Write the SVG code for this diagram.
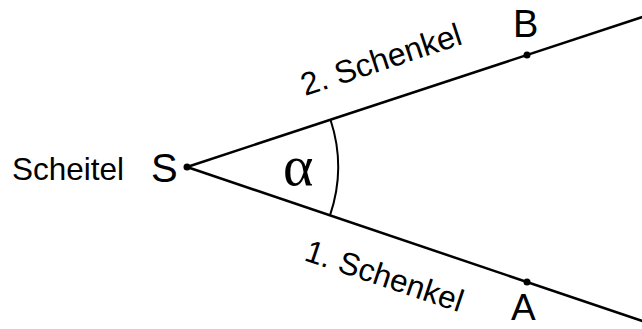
<svg xmlns="http://www.w3.org/2000/svg" width="642" height="329" viewBox="0 0 642 329">
<style>
.lbl{font-family:"Liberation Sans",Arial,sans-serif;fill:#000}
.ray{stroke:#000;stroke-width:2.5;fill:none;stroke-linecap:butt}
.arc{stroke:#000;stroke-width:2;fill:none}
.dot{fill:#000}
</style>
<rect width="642" height="329" fill="#fff"/>
<g id="connectors">
<line class="ray" x1="187" y1="167" x2="650" y2="14.5"/>
<line class="ray" x1="187" y1="167" x2="650" y2="323.6"/>
<path class="arc" d="M330.5,119.8 A151,151 0 0 1 330,215.4"/>
</g>
<g id="node-S">
<circle class="dot" cx="187" cy="167" r="3.5"/>
<text class="lbl" x="151" y="182" font-size="40">S</text>
<text class="lbl" x="12" y="180" font-size="31.5">Scheitel</text>
</g>
<g id="node-B">
<circle class="dot" cx="527" cy="55" r="3.5"/>
<text class="lbl" x="513" y="37" font-size="38">B</text>
</g>
<g id="node-A">
<circle class="dot" cx="527" cy="282" r="3.5"/>
<text class="lbl" x="511" y="320" font-size="37">A</text>
</g>
<g id="alpha">
<text x="283" y="185" font-size="58" font-family="'Liberation Serif','Times New Roman',serif">α</text>
</g>
<g id="label-2">
<text class="lbl" font-size="32" transform="translate(305,96) rotate(-18.2)">2. Schenkel</text>
</g>
<g id="label-1">
<text class="lbl" font-size="31.5" transform="translate(303,260) rotate(18.5)">1. Schenkel</text>
</g>
</svg>
